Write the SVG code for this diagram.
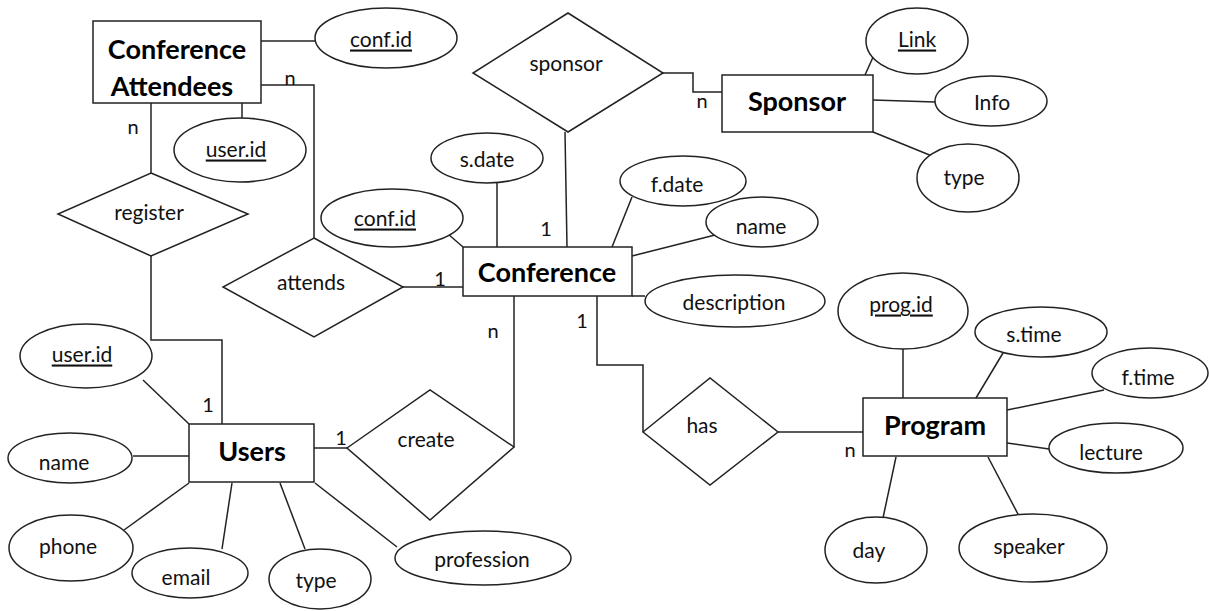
<svg xmlns="http://www.w3.org/2000/svg" width="1209" height="611" viewBox="0 0 1209 611">
<style>
.s{fill:#fff;stroke:#222;stroke-width:1.5}
.c{fill:none;stroke:#222;stroke-width:1.5}
.t{font-family:Lato,"Open Sans",sans-serif;font-size:21px;fill:#111;text-anchor:middle;dominant-baseline:central}
.b{font-family:Lato,"Open Sans",sans-serif;font-size:27px;font-weight:bold;fill:#000;text-anchor:middle;dominant-baseline:central}
.u{text-decoration:underline}
.l{font-family:Lato,"Open Sans",sans-serif;font-size:20px;fill:#111;text-anchor:middle;dominant-baseline:central}
</style>
<rect width="1209" height="611" fill="#fff"/>
<g id="connectors">
<polyline class="c" points="261,41 315,41"/>
<polyline class="c" points="261,85 314,85 314,238"/>
<polyline class="c" points="242,103 242,118"/>
<polyline class="c" points="151,103 151,173"/>
<polyline class="c" points="151,256 151,340 222,340 222,424"/>
<polyline class="c" points="403,287 463,287"/>
<polyline class="c" points="448,234 463,247"/>
<polyline class="c" points="663,73 693,73 693,92 722,92"/>
<polyline class="c" points="565,132 567,247"/>
<polyline class="c" points="497,183 497,247"/>
<polyline class="c" points="632,197 612,247"/>
<polyline class="c" points="723,233 632,256"/>
<polyline class="c" points="632,296 645,296"/>
<polyline class="c" points="865,75 874,55"/>
<polyline class="c" points="873,100 935,102"/>
<polyline class="c" points="873,132 932,156"/>
<polyline class="c" points="143,380 189,424"/>
<polyline class="c" points="133,456 189,456"/>
<polyline class="c" points="124,530 189,483"/>
<polyline class="c" points="222,549 232,483"/>
<polyline class="c" points="305,549 280,483"/>
<polyline class="c" points="397,547 315,483"/>
<polyline class="c" points="314,448 347,448"/>
<polyline class="c" points="514,447 514,296"/>
<polyline class="c" points="597,296 597,365 643,365 643,432"/>
<polyline class="c" points="778,432 863,432"/>
<polyline class="c" points="903,349 903,398"/>
<polyline class="c" points="976,398 1006,348"/>
<polyline class="c" points="1007,410 1104,390"/>
<polyline class="c" points="1007,443 1049,449"/>
<polyline class="c" points="988,457 1019,516"/>
<polyline class="c" points="896,457 883,518"/>
<text class="l" x="290" y="77">n</text>
<text class="l" x="133" y="126">n</text>
<text class="l" x="440" y="278">1</text>
<text class="l" x="702" y="100">n</text>
<text class="l" x="546" y="228">1</text>
<text class="l" x="208" y="404">1</text>
<text class="l" x="341" y="437">1</text>
<text class="l" x="493" y="330">n</text>
<text class="l" x="582" y="320">1</text>
<text class="l" x="850" y="449">n</text>
</g>
<g id="conference-attendees"><rect class="s" x="93" y="21" width="168" height="82"/><text class="b" x="177" y="48">Conference</text><text class="b" x="172" y="85">Attendees</text></g>
<g id="ca-confid"><ellipse class="s" cx="386" cy="38" rx="71" ry="30"/><text class="t u" x="381" y="38">conf.id</text></g>
<g id="ca-userid"><ellipse class="s" cx="240" cy="150" rx="66" ry="32"/><text class="t u" x="236" y="148">user.id</text></g>
<g id="register"><polygon class="s" points="151,173 248,214 151,256 58,214"/><text class="t" x="149" y="211">register</text></g>
<g id="attends"><polygon class="s" points="314,238 403,287 314,337 223,287"/><text class="t" x="311" y="281">attends</text></g>
<g id="sponsor-rel"><polygon class="s" points="568,13 663,73 568,132 473,73"/><text class="t" x="566" y="62">sponsor</text></g>
<g id="sponsor"><rect class="s" x="722" y="75" width="151" height="57"/><text class="b" x="797" y="100">Sponsor</text></g>
<g id="sp-link"><ellipse class="s" cx="917" cy="41" rx="51" ry="33"/><text class="t u" x="917" y="38">Link</text></g>
<g id="sp-info"><ellipse class="s" cx="991" cy="101" rx="56" ry="25"/><text class="t" x="992" y="101">Info</text></g>
<g id="sp-type"><ellipse class="s" cx="968" cy="178" rx="51" ry="34"/><text class="t" x="964" y="176">type</text></g>
<g id="conference"><rect class="s" x="463" y="247" width="169" height="49"/><text class="b" x="547" y="271">Conference</text></g>
<g id="c-confid"><ellipse class="s" cx="392" cy="218" rx="71" ry="29"/><text class="t u" x="385" y="217">conf.id</text></g>
<g id="c-sdate"><ellipse class="s" cx="487" cy="158" rx="56" ry="25"/><text class="t" x="487" y="158">s.date</text></g>
<g id="c-fdate"><ellipse class="s" cx="683" cy="181" rx="63" ry="25"/><text class="t" x="677" y="183">f.date</text></g>
<g id="c-name"><ellipse class="s" cx="762" cy="222" rx="56" ry="25"/><text class="t" x="761" y="225">name</text></g>
<g id="c-description"><ellipse class="s" cx="735" cy="301" rx="90" ry="26"/><text class="t" x="734" y="301">description</text></g>
<g id="users"><rect class="s" x="189" y="424" width="125" height="58"/><text class="b" x="252" y="450">Users</text></g>
<g id="u-userid"><ellipse class="s" cx="86" cy="356" rx="66" ry="32"/><text class="t u" x="82" y="353">user.id</text></g>
<g id="u-name"><ellipse class="s" cx="70" cy="458" rx="62" ry="25"/><text class="t" x="64" y="461">name</text></g>
<g id="u-phone"><ellipse class="s" cx="71" cy="548" rx="62" ry="33"/><text class="t" x="68" y="545">phone</text></g>
<g id="u-email"><ellipse class="s" cx="190" cy="573" rx="58" ry="25"/><text class="t" x="186" y="576">email</text></g>
<g id="u-type"><ellipse class="s" cx="320" cy="579" rx="51" ry="30"/><text class="t" x="316" y="579">type</text></g>
<g id="u-profession"><ellipse class="s" cx="483" cy="558" rx="88" ry="27"/><text class="t" x="482" y="558">profession</text></g>
<g id="create"><polygon class="s" points="347,448 430,390 514,447 430,520"/><text class="t" x="426" y="438">create</text></g>
<g id="has"><polygon class="s" points="643,432 710,378 778,432 710,485"/><text class="t" x="702" y="424">has</text></g>
<g id="program"><rect class="s" x="863" y="398" width="144" height="58"/><text class="b" x="935" y="424">Program</text></g>
<g id="p-progid"><ellipse class="s" cx="903" cy="311" rx="65" ry="38"/><text class="t u" x="901" y="303">prog.id</text></g>
<g id="p-stime"><ellipse class="s" cx="1041" cy="332" rx="66" ry="25"/><text class="t" x="1034" y="333">s.time</text></g>
<g id="p-ftime"><ellipse class="s" cx="1150" cy="373" rx="58" ry="25"/><text class="t" x="1148" y="376">f.time</text></g>
<g id="p-lecture"><ellipse class="s" cx="1116" cy="448" rx="67" ry="25"/><text class="t" x="1111" y="451">lecture</text></g>
<g id="p-speaker"><ellipse class="s" cx="1033" cy="548" rx="74" ry="34"/><text class="t" x="1029" y="545">speaker</text></g>
<g id="p-day"><ellipse class="s" cx="876" cy="550" rx="51" ry="33"/><text class="t" x="869" y="549">day</text></g>
</svg>
